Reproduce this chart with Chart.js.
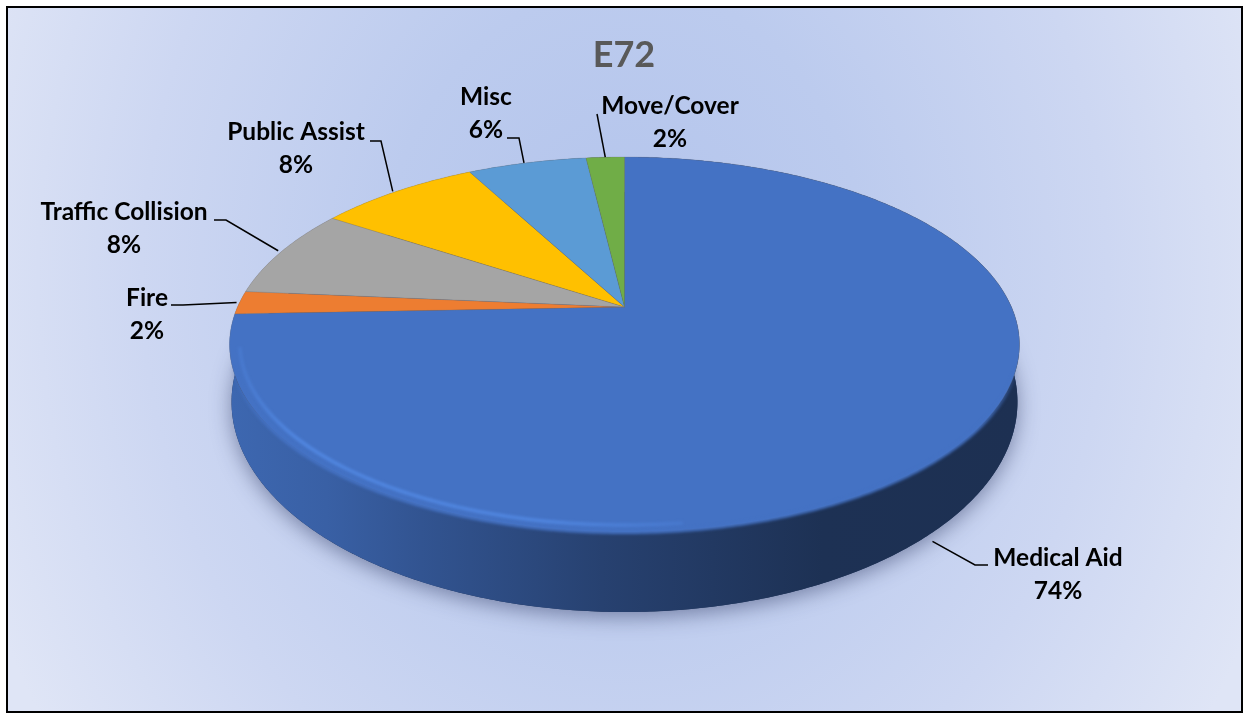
<!DOCTYPE html>
<html>
<head>
<meta charset="utf-8">
<title>E72</title>
<script src="https://cdn.jsdelivr.net/npm/chart.js@4"></script>
<style>
    html, body { margin: 0; padding: 0; background: #fff; }
    #box {
        position: absolute; left: 6px; top: 6px; width: 1233px; height: 703px;
        border: 2px solid #000;
        background: radial-gradient(ellipse 690px 830px at 50% 38%, #b3c4ec 0%, #bccbee 35%, #cdd7f2 70%, #dfe5f6 100%);
    }
    #myChart { position: absolute; left: 0; top: 0; }
</style>
</head>
<body>
<div id="box"></div>
<canvas id="myChart" width="1244" height="715"></canvas>
<script>
const categories = ['Medical Aid', 'Fire', 'Traffic Collision', 'Public Assist', 'Misc', 'Move/Cover']
const shares = [74.4, 2.0, 7.8, 8.0, 5.9, 1.9]
const sliceColors = ['#4472c4', '#ed7d31', '#a5a5a5', '#ffc000', '#5b9bd5', '#70ad47']

// where the data labels sit: text centre, leader elbow points, nudge of the leader tip
const labelSpots = [
    { x: 1058, y: 558, leader: [[988, 565], [975, 565]], wall: true, nudge: [-14, 19] },
    { x: 147, y: 298, leader: [[171, 305], [183, 305]], nudge: [-3, 0] },
    { x: 124, y: 212, leader: [[214, 220], [226, 220]], nudge: [-3, -1] },
    { x: 296, y: 132, leader: [[370, 141], [381, 141]], nudge: [-4, 0] },
    { x: 486, y: 97, leader: [[507, 138], [519, 138]], nudge: [-3, 0] },
    { x: 670, y: 106, leader: [[597, 114]], nudge: [0, 0] }
]

// perspective of the tilted disc, unit circle -> screen
const topFace = { cx: 624.5, cy: 307, a: 387, b: 180, k: 0.2 }
const bottomFace = { cx: 624.5, cy: 360, a: 385, b: 201.6, k: 0.2 }

function project(face, angle, r) {
    const u = r * Math.cos(angle), v = r * Math.sin(angle)
    const w = 1 - face.k * v
    return [face.cx + face.a * u / w, face.cy + face.b * v / w]
}

function shade(hex, f) {
    const n = parseInt(hex.slice(1), 16)
    return `rgb(${((n >> 16) & 255) * f},${((n >> 8) & 255) * f},${(n & 255) * f})`
}

function arcPoints(face, start, end, rim) {
    const pts = []
    const steps = Math.max(2, Math.ceil((end - start) / 0.01))
    for (let i = 0; i <= steps; i++) {
        const t = start + (end - start) * i / steps
        pts.push(project(face, t, rim ? rim(t) : 1))
    }
    return pts
}

function trace(ctx, pts) {
    ctx.beginPath()
    pts.forEach((p, i) => i ? ctx.lineTo(p[0], p[1]) : ctx.moveTo(p[0], p[1]))
    ctx.closePath()
}

function traceOpen(ctx, pts) {
    ctx.beginPath()
    pts.forEach((p, i) => i ? ctx.lineTo(p[0], p[1]) : ctx.moveTo(p[0], p[1]))
}

const pie3d = {
    id: 'pie3d',
    beforeDatasetDraw(chart, args) {
        const ctx = chart.ctx
        const arcs = chart.getDatasetMeta(args.index).data

        // soft shadow under the disc
        ctx.save()
        ctx.shadowColor = 'rgba(45,55,95,0.5)'
        ctx.shadowBlur = 20
        ctx.shadowOffsetY = 5
        ctx.fillStyle = '#1f3358'
        trace(ctx, arcPoints(bottomFace, 0, Math.PI * 2))
        ctx.fill()
        ctx.restore()

        // side wall, back slices first so the big one ends up in front
        arcs.forEach((el, i) => {
            const g = ctx.createLinearGradient(232, 0, 1020, 0)
            const c = sliceColors[i]
            g.addColorStop(0, shade(c, 0.9))
            g.addColorStop(0.12, shade(c, 0.84))
            g.addColorStop(0.24, shade(c, 0.74))
            g.addColorStop(0.47, shade(c, 0.57))
            g.addColorStop(0.75, shade(c, 0.43))
            g.addColorStop(1, shade(c, 0.42))
            const upper = arcPoints(topFace, el.startAngle, el.endAngle)
            const lower = arcPoints(bottomFace, el.startAngle, el.endAngle).reverse()
            ctx.fillStyle = g
            trace(ctx, upper.concat(lower))
            ctx.fill()
        })

        // top face
        arcs.forEach((el, i) => {
            const rim = arcPoints(topFace, el.startAngle, el.endAngle)
            trace(ctx, rim.concat([project(topFace, 0, 0)]))
            ctx.fillStyle = sliceColors[i]
            ctx.fill()
            ctx.strokeStyle = 'rgba(110,110,120,0.4)'
            ctx.lineWidth = 0.6
            ctx.stroke()
        })

        // feather the front rim so the top melts into the wall
        ctx.save()
        const fade = ctx.createLinearGradient(0, 365, 0, 430)
        fade.addColorStop(0, 'rgba(68,114,196,0)')
        fade.addColorStop(1, 'rgba(68,114,196,1)')
        ctx.filter = 'blur(1.8px)'
        ctx.strokeStyle = fade
        ctx.lineWidth = 4
        traceOpen(ctx, arcPoints(topFace, 0.05, Math.PI - 0.05))
        ctx.stroke()
        ctx.restore()

        // bevel highlight along the front left
        ctx.save()
        trace(ctx, arcPoints(topFace, 0, Math.PI * 2))
        ctx.clip()
        const hl = ctx.createLinearGradient(232, 0, 760, 0)
        hl.addColorStop(0, 'rgba(84,140,232,0.25)')
        hl.addColorStop(0.12, 'rgba(84,140,232,0.9)')
        hl.addColorStop(0.6, 'rgba(84,140,232,0.85)')
        hl.addColorStop(1, 'rgba(84,140,232,0)')
        ctx.filter = 'blur(1.5px)'
        ctx.strokeStyle = hl
        ctx.lineWidth = 3
        traceOpen(ctx, arcPoints(topFace, Math.PI * 0.46, Math.PI * 0.93, () => 0.975))
        ctx.stroke()
        ctx.restore()

        return false
    },
    afterDatasetsDraw(chart) {
        const ctx = chart.ctx
        const arcs = chart.getDatasetMeta(0).data
        const total = shares.reduce((a, b) => a + b, 0)

        ctx.save()
        ctx.strokeStyle = '#000'
        ctx.lineWidth = 1.5
        arcs.forEach((el, i) => {
            const spot = labelSpots[i]
            const mid = (el.startAngle + el.endAngle) / 2
            const end = project(spot.wall ? bottomFace : topFace, mid, 1)
            ctx.beginPath()
            spot.leader.forEach((p, n) => n ? ctx.lineTo(p[0], p[1]) : ctx.moveTo(p[0], p[1]))
            ctx.lineTo(end[0] + spot.nudge[0], end[1] + spot.nudge[1])
            ctx.stroke()
        })

        ctx.fillStyle = '#000'
        ctx.font = 'bold 24.5px Lato'
        ctx.textAlign = 'center'
        ctx.textBaseline = 'middle'
        arcs.forEach((el, i) => {
            const spot = labelSpots[i]
            ctx.fillText(categories[i], spot.x, spot.y)
            ctx.fillText(Math.round(shares[i] / total * 100) + '%', spot.x, spot.y + 33)
        })
        ctx.restore()
    }
}

new Chart(document.getElementById('myChart'), {
    type: 'pie',
    data: {
        labels: categories,
        datasets: [{ data: shares, backgroundColor: sliceColors }]
    },
    options: {
        responsive: false,
        animation: false,
        layout: { padding: { left: 4 } },
        plugins: {
            legend: { display: false },
            tooltip: { enabled: false },
            title: {
                display: true,
                text: 'E72',
                color: '#595959',
                font: { family: 'Lato', size: 36, weight: 'bold' },
                padding: { top: 34, bottom: 10 }
            }
        }
    },
    plugins: [pie3d]
})
</script>
</body>
</html>
